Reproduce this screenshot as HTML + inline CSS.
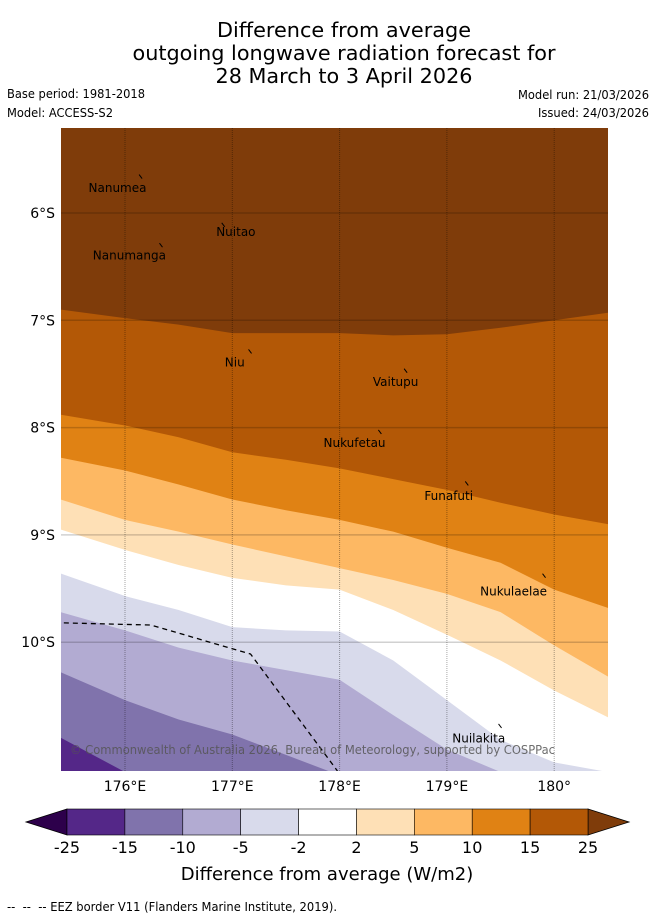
<!DOCTYPE html>
<html><head><meta charset="utf-8">
<style>
body{margin:0;background:#fff;width:655px;height:919px;overflow:hidden;font-family:"DejaVu Sans","Liberation Sans",sans-serif;}
svg{display:block}
</style></head><body>
<svg id="chart" width="655" height="919" viewBox="0 0 655 919" xmlns="http://www.w3.org/2000/svg" font-family="DejaVu Sans, Liberation Sans, sans-serif">
<g font-size="20" text-anchor="middle" fill="#000">
<text x="344" y="37" textLength="254" lengthAdjust="spacingAndGlyphs">Difference from average</text>
<text x="344" y="60" textLength="423" lengthAdjust="spacingAndGlyphs">outgoing longwave radiation forecast for</text>
<text x="344" y="83" textLength="257" lengthAdjust="spacingAndGlyphs">28 March to 3 April 2026</text>
</g>
<g font-size="12" fill="#000">
<text x="7" y="98" textLength="138" lengthAdjust="spacingAndGlyphs">Base period: 1981-2018</text>
<text x="7" y="117" textLength="106" lengthAdjust="spacingAndGlyphs">Model: ACCESS-S2</text>
<text x="518" y="99" textLength="131" lengthAdjust="spacingAndGlyphs">Model run: 21/03/2026</text>
<text x="538" y="117" textLength="111" lengthAdjust="spacingAndGlyphs">Issued: 24/03/2026</text>
</g>
<defs><clipPath id="plotclip"><rect x="61" y="128" width="547" height="643"/></clipPath></defs>
<g id="map" clip-path="url(#plotclip)"></g>
<g id="axes"></g>
<g id="cbar"></g>
<text x="327" y="880" font-size="18" text-anchor="middle">Difference from average (W/m2)</text>
<text x="7" y="911" font-size="12" textLength="330" lengthAdjust="spacingAndGlyphs" xml:space="preserve">--  --  -- EEZ border V11 (Flanders Marine Institute, 2019).</text>
</svg>
<script>
const lons=[175.4,176,176.5,177,177.5,178,178.5,179,179.5,180,180.5];
const levels=[25,15,10,5,2,-2,-5,-10,-15];
const b25=[-6.90,-6.98,-7.04,-7.12,-7.12,-7.12,-7.14,-7.13,-7.07,-7.00,-6.93];
const b15=[-7.88,-7.98,-8.09,-8.23,-8.30,-8.38,-8.48,-8.58,-8.70,-8.81,-8.90];
const b10=[-8.28,-8.40,-8.53,-8.67,-8.77,-8.86,-8.97,-9.12,-9.26,-9.51,-9.68];
const b5=[-8.67,-8.86,-8.97,-9.09,-9.20,-9.31,-9.42,-9.55,-9.72,-10.03,-10.32];
const b2=[-8.95,-9.14,-9.28,-9.40,-9.47,-9.51,-9.70,-9.93,-10.17,-10.45,-10.70];
const bm2=[-9.36,-9.57,-9.70,-9.86,-9.89,-9.90,-10.17,-10.54,-10.91,-11.12,-11.21];
const bm5=[-9.72,-9.89,-10.05,-10.17,-10.26,-10.35,-10.68,-11.00,-11.21,-11.4,-11.4];
const bm10=[-10.28,-10.54,-10.72,-10.86,-11.05,-11.24,-11.4,-11.4,-11.4,-11.4,-11.4];
const bm15=[-10.89,-11.21,-11.4,-11.4,-11.4,-11.4,-11.4,-11.4,-11.4,-11.4,-11.4];
const boundaries=[b25,b15,b10,b5,b2,bm2,bm5,bm10,bm15];
const colors=['#7f3c0a','#b35806','#e08214','#fdb863','#fee0b6','#ffffff','#d8daeb','#b2abd2','#8073ac','#542788','#2d004b'];
const cbLabels=['-25','-15','-10','-5','-2','2','5','10','15','25'];
const lonTicks=[176,177,178,179,180];
const lonTickLabels=['176°E','177°E','178°E','179°E','180°'];
const latTicks=[-6,-7,-8,-9,-10];
const latTickLabels=['6°S','7°S','8°S','9°S','10°S'];
const eezLon=[175.43,176.24,177.17,177.98];
const eezLat=[-9.82,-9.84,-10.11,-11.2];
const islandNames=['Nanumea','Nuitao','Nanumanga','Niu','Vaitupu','Nukufetau','Funafuti','Nukulaelae','Nuilakita'];
const islandLon=[175.66,176.85,175.70,176.93,178.31,177.85,178.79,179.31,179.05];
const islandLat=[-5.70,-6.11,-6.33,-7.33,-7.51,-8.08,-8.57,-9.46,-10.83];
const markLon=[176.15,176.92,176.34,177.17,178.62,178.38,179.19,179.91,179.5];
const markLat=[-5.66,-6.11,-6.30,-7.29,-7.47,-8.04,-8.52,-9.38,-10.78];

const NS='http://www.w3.org/2000/svg';
const X=lon=>125+(lon-176)*107.3;
const Y=lat=>213+(-6-lat)*107.3;
function mk(tag,attrs,parent){const e=document.createElementNS(NS,tag);for(const k in attrs)e.setAttribute(k,attrs[k]);parent.appendChild(e);return e;}
const map=document.getElementById('map');
let bg=mk('rect',{x:61,y:128,width:547,height:643,fill:colors[0]},map);


boundaries.forEach((b,i)=>{
  let d='M'+(X(lons[0])-5)+','+Y(b[0]);
  lons.forEach((lo,j)=>{d+=' L'+X(lo)+','+Y(b[j]);});
  d+=' L'+(X(lons[lons.length-1])+5)+','+Y(b[b.length-1])+' L615,800 L55,800 Z';
  const p=mk('path',{d:d,fill:colors[i+1]},map);
  
  
});
const axes=document.getElementById('axes');
lonTicks.forEach((lo,i)=>{
  const g=mk('line',{x1:X(lo),x2:X(lo),y1:128,y2:771,stroke:'rgba(0,0,0,0.35)','stroke-width':1,'stroke-dasharray':'1,1'},map);
  
  
  const t=mk('text',{x:X(lo),y:791,'font-size':14,'text-anchor':'middle'},axes);
  t.textContent=lonTickLabels[i];
  
  
});
latTicks.forEach((la,i)=>{
  const g=mk('line',{x1:61,x2:608,y1:Y(la),y2:Y(la),stroke:'rgba(0,0,0,0.18)','stroke-width':1.5},map);
  
  
  const t=mk('text',{x:55,y:Y(la)+5,'font-size':14,'text-anchor':'end'},axes);
  t.textContent=latTickLabels[i];
  
  
});
let ed='';eezLon.forEach((lo,i)=>{ed+=(i?' L':'M')+X(lo)+','+Y(eezLat[i]);});
const eez=mk('path',{d:ed,fill:'none',stroke:'#000','stroke-width':1.3,'stroke-dasharray':'5,4'},map);


islandNames.forEach((n,i)=>{
  const t=mk('text',{x:X(islandLon[i]),y:Y(islandLat[i])+11,'font-size':12,'text-anchor':'start',fill:'#000'},map);
  t.textContent=n;
  
  
  const m=mk('line',{x1:X(markLon[i])-2,y1:Y(markLat[i])-2,x2:X(markLon[i])+1,y2:Y(markLat[i])+2,stroke:'#000','stroke-width':1},map);
  
  
});
const cp=mk('text',{x:70,y:754,'font-size':12,fill:'#555','fill-opacity':0.85,textLength:485,lengthAdjust:'spacingAndGlyphs'},map);
cp.textContent='© Commonwealth of Australia 2026, Bureau of Meteorology, supported by COSPPac';


const cb=document.getElementById('cbar');
const cx0=67,cx1=588,cy0=809,cy1=835,n=cbLabels.length-1,w=(cx1-cx0)/n;
const lt=mk('path',{d:`M${cx0},${cy0} L26,822 L${cx0},${cy1} Z`,fill:colors[10],stroke:'#000','stroke-width':0.8},cb);


const rt=mk('path',{d:`M${cx1},${cy0} L629,822 L${cx1},${cy1} Z`,fill:colors[0],stroke:'#000','stroke-width':0.8},cb);


for(let i=0;i<n;i++){
  const r=mk('rect',{x:cx0+i*w,y:cy0,width:w,height:cy1-cy0,fill:colors[9-i],stroke:'#000','stroke-width':0.6},cb);
  
  
}
cbLabels.forEach((l,i)=>{
  const t=mk('text',{x:cx0+i*w,y:853,'font-size':16,'text-anchor':'middle'},cb);
  t.textContent=l;
  
  
});
</script>
</body></html>
